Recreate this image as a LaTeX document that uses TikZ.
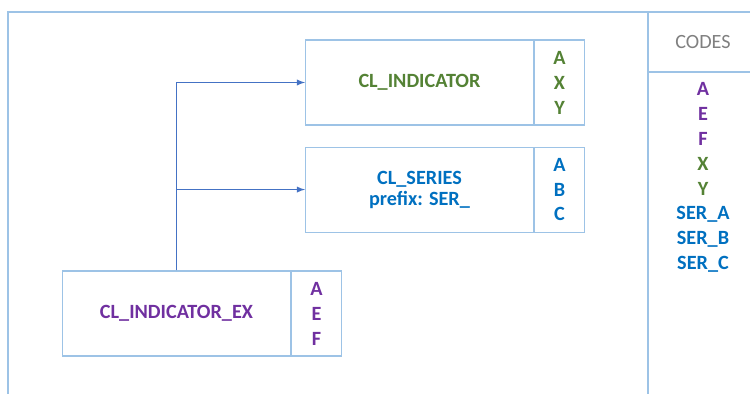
\documentclass[tikz,border=0pt]{standalone}
\usepackage{fontspec}
\setmainfont{Carlito}
\usetikzlibrary{arrows,positioning}
\definecolor{frameblue}{HTML}{9DC3E6}
\definecolor{linkblue}{HTML}{4472C4}
\definecolor{codegreen}{HTML}{548235}
\definecolor{codeblue}{HTML}{0070C0}
\definecolor{codepurple}{HTML}{7030A0}

\begin{document}
\begin{tikzpicture}[>=latex,line width=0.6pt,
	every node/.style={font=\bfseries\fontsize{11.5}{14.2}\selectfont},
	class node/.style={rectangle,draw=frameblue,minimum width=4.56cm,
		minimum height=1.7cm,inner sep=0pt,align=center},
	code node/.style={rectangle,draw=frameblue,minimum width=1cm,
		minimum height=1.7cm,inner sep=0pt,align=center}]
	\useasboundingbox (0,0) rectangle (15,-7.88);
	
	% frame and code column
	\draw[frameblue] (0.16,-7.88) -- (0.16,-0.24) -- (15,-0.24);
	\draw[frameblue] (12.96,-0.24) -- (12.96,-7.88);
	\draw[frameblue] (12.96,-1.44) -- (15,-1.44);
	\node[text=gray,font=\mdseries\fontsize{11.5}{14.2}\selectfont] (codes) at (14.06,-0.84) {CODES};
	\foreach \code/\col [count=\i] in {A/codepurple,E/codepurple,F/codepurple,
		X/codegreen,Y/codegreen,SER\_A/codeblue,SER\_B/codeblue,SER\_C/codeblue}
		\node[text=\col] (code\i) at (14.06,-1.28-0.5*\i) {\code};
	
	% classes
	\node[class node,text=codegreen] (ind) at (8.39,-1.65) {CL\_INDICATOR};
	\node[code node,text=codegreen] (indc) [right=0pt of ind] {A\\X\\Y};
	
	\node[class node,text=codeblue] (ser) [below=0.42cm of ind] {CL\_SERIES\\[-2.2pt]prefix: SER\_};
	\node[code node,text=codeblue] (serc) [right=0pt of ser] {A\\B\\C};
	
	\node[class node,text=codepurple] (ex) at (3.53,-6.27) {CL\_INDICATOR\_EX};
	\node[code node,text=codepurple] (exc) [right=0pt of ex] {A\\E\\F};
	
	% links
	\draw[->,linkblue] (ex.north) |- (ind.west);
	\draw[->,linkblue] (ex.north) |- (ser.west);
\end{tikzpicture}
\end{document}
